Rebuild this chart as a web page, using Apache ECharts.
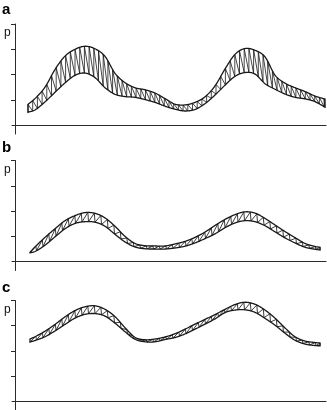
<!DOCTYPE html>
<html>
<head>
<meta charset="utf-8">
<script src="https://cdn.jsdelivr.net/npm/echarts@6/dist/echarts.min.js"></script>
<style>
  html, body { margin: 0; padding: 0; background: #fff; }
  #chart { width: 327px; height: 410px; }
</style>
</head>
<body>
<div id="chart"></div>
<script>
// Panel a: positions along the time axis and the two bounding curves of the band
const xA = [13, 20, 30, 40, 50, 60, 70, 80, 90, 100, 110, 120, 130, 140, 150, 160,
            170, 180, 190, 200, 210, 220, 230, 240, 250, 260, 270, 280, 290, 300, 310];
const upperA = [0.82, 1.05, 1.50, 2.20, 2.73, 3.00, 3.12, 3.02, 2.72, 2.05, 1.68, 1.48, 1.40, 1.27, 1.05, 0.83,
                0.80, 0.90, 1.12, 1.55, 2.22, 2.80, 3.03, 2.96, 2.70, 1.98, 1.66, 1.48, 1.33, 1.15, 1.03];
const lowerA = [0.51, 0.60, 0.92, 1.30, 1.67, 1.97, 2.06, 1.88, 1.48, 1.22, 1.13, 1.10, 1.01, 0.90, 0.75, 0.63,
                0.56, 0.62, 0.85, 1.19, 1.58, 1.93, 2.08, 2.02, 1.64, 1.42, 1.23, 1.10, 1.04, 0.93, 0.71];

// Panel b
const xB = [15, 20, 30, 40, 50, 60, 70, 80, 90, 100, 110, 120, 130, 140, 150, 160,
            170, 180, 190, 200, 210, 220, 230, 240, 250, 260, 270, 280, 290, 300, 305];
const upperB = [0.37, 0.58, 0.96, 1.30, 1.62, 1.82, 1.94, 1.91, 1.73, 1.40, 1.00, 0.72, 0.63, 0.62, 0.62, 0.70,
                0.80, 0.96, 1.17, 1.43, 1.67, 1.86, 1.97, 1.92, 1.71, 1.45, 1.19, 0.95, 0.72, 0.60, 0.57];
const lowerB = [0.35, 0.40, 0.65, 0.98, 1.30, 1.51, 1.58, 1.56, 1.40, 1.08, 0.78, 0.58, 0.51, 0.50, 0.50, 0.54,
                0.61, 0.74, 0.91, 1.10, 1.34, 1.53, 1.62, 1.58, 1.42, 1.18, 0.94, 0.74, 0.57, 0.49, 0.46];

// Panel c
const xC = [15, 20, 30, 40, 50, 60, 70, 80, 90, 100, 110, 120, 130, 140, 150, 160,
            170, 180, 190, 200, 210, 220, 230, 240, 250, 260, 270, 280, 290, 300, 305];
const upperC = [2.47, 2.56, 2.78, 3.05, 3.35, 3.60, 3.75, 3.79, 3.65, 3.36, 2.92, 2.54, 2.44, 2.47, 2.55, 2.68,
                2.86, 3.06, 3.25, 3.44, 3.65, 3.84, 3.93, 3.85, 3.62, 3.30, 2.91, 2.56, 2.39, 2.33, 2.31];
const lowerC = [2.35, 2.41, 2.56, 2.79, 3.05, 3.30, 3.45, 3.48, 3.38, 3.10, 2.76, 2.46, 2.36, 2.36, 2.45, 2.53,
                2.67, 2.86, 3.06, 3.27, 3.52, 3.62, 3.63, 3.53, 3.29, 3.02, 2.70, 2.42, 2.27, 2.21, 2.20];

const panelLabels = ['a', 'b', 'c'];
const axisName = 'p';
const yTicks = [1, 2, 3, 4];

const INK = '#181818';

// Smooth cubic Hermite curve through pixel points (x increasing)
function hermite(pts) {
  const n = pts.length;
  const m = pts.map((p, i) => {
    const a = pts[Math.max(0, i - 1)], b = pts[Math.min(n - 1, i + 1)];
    return (b[1] - a[1]) / (b[0] - a[0]);
  });
  return function (x) {
    let i = 0;
    while (i < n - 2 && x > pts[i + 1][0]) i++;
    const p0 = pts[i], p1 = pts[i + 1], h = p1[0] - p0[0];
    const t = Math.min(1, Math.max(0, (x - p0[0]) / h));
    const t2 = t * t, t3 = t2 * t;
    return (2 * t3 - 3 * t2 + 1) * p0[1] + (t3 - 2 * t2 + t) * h * m[i] +
           (-2 * t3 + 3 * t2) * p1[1] + (t3 - t2) * h * m[i + 1];
  };
}

// Hatched band between a lower and an upper curve
function bandSeries(idx, xs, up, lo, period, frac, hatchWidth) {
  return {
    type: 'custom',
    xAxisIndex: idx,
    yAxisIndex: idx,
    silent: true,
    clip: false,
    data: [[xs[0], up[0]]],
    renderItem(params, api) {
      const U = xs.map((x, i) => api.coord([x, up[i]]));
      const L = xs.map((x, i) => api.coord([x, lo[i]]));
      const fu = hermite(U), fl = hermite(L);
      const x0 = U[0][0], x1 = U[U.length - 1][0];
      const upPts = [], loPts = [];
      for (let x = x0; x <= x1 + 0.01; x += 0.5) {
        upPts.push([x, fu(x)]);
        loPts.push([x, fl(x)]);
      }
      const zig = [];
      for (let x = x0; x < x1 - 0.5; x += period) {
        zig.push([x, fl(x)]);
        const xu = Math.min(x1, x + frac * period);
        zig.push([xu, fu(xu)]);
      }
      zig.push([x1, fl(x1)]);
      return {
        type: 'group',
        children: [
          { type: 'polyline', shape: { points: zig },
            style: { stroke: INK, lineWidth: hatchWidth, fill: null } },
          { type: 'polygon', shape: { points: upPts.concat(loPts.slice().reverse()) },
            style: { stroke: INK, lineWidth: 1.3, fill: null } }
        ]
      };
    }
  };
}

const gridTops = [24, 160.5, 300.5];
const labelTops = [2, 140, 280];
const nameTops = [27, 163.5, 303.5];

const axisLineStyle = { color: '#2a2a2a', width: 1 };

const option = {
  animation: false,
  backgroundColor: '#fff',
  grid: gridTops.map(t => ({ left: 12, width: 314, top: t, height: 110 })),
  xAxis: gridTops.map((t, i) => ({
    type: 'value', gridIndex: i, min: -3, max: 311,
    axisLine: { show: true, onZero: true, lineStyle: axisLineStyle },
    axisTick: { show: false }, axisLabel: { show: false }, splitLine: { show: false }
  })),
  yAxis: gridTops.map((t, i) => ({
    type: 'value', gridIndex: i, min: -0.35, max: 4,
    axisLine: { show: true, onZero: true, lineStyle: axisLineStyle },
    axisTick: { show: true, length: 4, customValues: yTicks, lineStyle: axisLineStyle },
    axisLabel: { show: false }, splitLine: { show: false }
  })),
  graphic: panelLabels.map((s, i) => ({
    type: 'text', left: 2, top: labelTops[i],
    style: { text: s, font: 'bold 15px "Liberation Sans", Arial, sans-serif', fill: '#000' }
  })).concat(gridTops.map((t, i) => ({
    type: 'text', left: 4, top: nameTops[i],
    style: { text: axisName, font: '12px "Liberation Sans", Arial, sans-serif', fill: '#111' }
  }))),
  series: [
    bandSeries(0, xA, upperA, lowerA, 4.7, 0.0, 0.8),
    bandSeries(1, xB, upperB, lowerB, 6.5, 0.9, 0.85),
    bandSeries(2, xC, upperC, lowerC, 6.5, 0.9, 0.85)
  ]
};

const chart = echarts.init(document.getElementById('chart'), null, { renderer: 'canvas' });
chart.setOption(option);
</script>
</body>
</html>
